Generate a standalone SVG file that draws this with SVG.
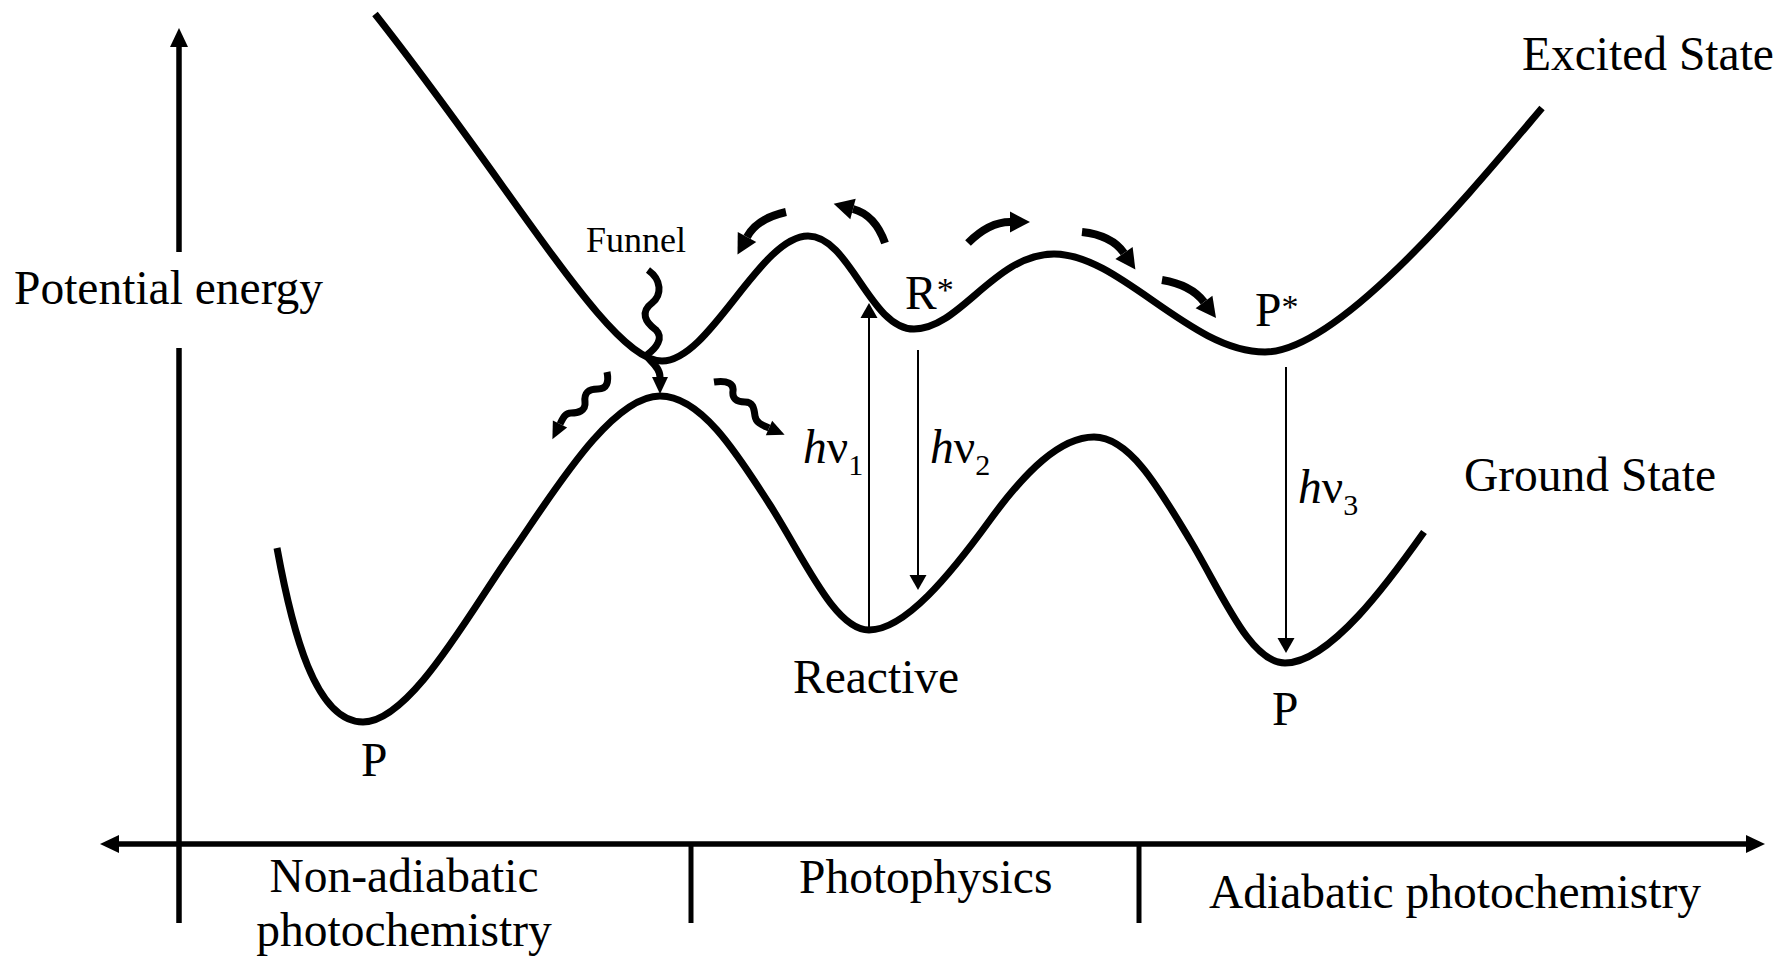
<svg xmlns="http://www.w3.org/2000/svg" width="1781" height="959" viewBox="0 0 1781 959">
<style>
.lbl{font-family:"Liberation Serif","Times New Roman",serif;font-size:47.5px;fill:#000}
.curve{fill:none;stroke:#000;stroke-width:7;stroke-linejoin:round}
.axis{fill:none;stroke:#000;stroke-width:5.5}
.tick{fill:none;stroke:#000;stroke-width:5}
.thin{fill:none;stroke:#000;stroke-width:2}
.curly{fill:none;stroke:#000;stroke-width:8}
.wavy{fill:none;stroke:#000;stroke-width:7}
</style>
<defs>
<marker id="mThin" markerUnits="userSpaceOnUse" viewBox="0 -9 16 18" markerWidth="16" markerHeight="18" refX="0" refY="0" orient="auto" overflow="visible"><path d="M0,-8.5 L15,0 L0,8.5 z" fill="#000"/></marker>
<marker id="mAxis" markerUnits="userSpaceOnUse" viewBox="0 -10 20 20" markerWidth="20" markerHeight="20" refX="0" refY="0" orient="auto-start-reverse" overflow="visible"><path d="M0,-9 L19,0 L0,9 z" fill="#000"/></marker>
<marker id="mCurly" markerUnits="userSpaceOnUse" viewBox="0 -11 21 22" markerWidth="21" markerHeight="22" refX="0" refY="0" orient="auto" overflow="visible"><path d="M0,-10.5 L20,0 L0,10.5 z" fill="#000"/></marker>
<marker id="mWavy" markerUnits="userSpaceOnUse" viewBox="0 -9 18 18" markerWidth="18" markerHeight="18" refX="0" refY="0" orient="auto" overflow="visible"><path d="M0,-8 L17,0 L0,8 z" fill="#000"/></marker>
</defs>

<g id="axes">
<line class="axis" x1="179" y1="252" x2="179" y2="47" marker-end="url(#mAxis)"/>
<line class="axis" x1="179" y1="348" x2="179" y2="923"/>
<line class="axis" x1="119" y1="844" x2="1746" y2="844" marker-start="url(#mAxis)" marker-end="url(#mAxis)"/>
<line class="tick" x1="691" y1="844" x2="691" y2="923"/>
<line class="tick" x1="1139" y1="844" x2="1139" y2="923"/>
</g>

<g id="excited-state-curve">
<path class="curve" d="M375,14 C520,198 610,361 662,361 C710,361 760,236 808,236 C850,236 870,329 914,329 C960,329 995,254 1054,254 C1120,254 1190,352 1265,352 C1340,352 1475,187 1542,108"/>
</g>

<g id="ground-state-curve">
<path class="curve" d="M277,548 C292,630 315,722 363,722 C410,722 470,612 510,555 C550,498 610,396 660,396 C700,396 735,450 770,505 C805,560 835,630 869,630 C905,630 950,575 990,520 C1025,472 1060,437 1094,437 C1130,437 1160,490 1190,540 C1222,593 1250,663 1285,663 C1330,663 1390,580 1424,532"/>
</g>

<g id="connectors">
<line class="thin" x1="869" y1="628" x2="869" y2="318" marker-end="url(#mThin)"/>
<line class="thin" x1="918" y1="350" x2="918" y2="575" marker-end="url(#mThin)"/>
<line class="thin" x1="1286" y1="367" x2="1286" y2="638" marker-end="url(#mThin)"/>
<path class="curly" d="M786,212 C768,216 754,224 747,237" marker-end="url(#mCurly)"/>
<path class="curly" d="M885,243 C879,226 868,213 853,209" marker-end="url(#mCurly)"/>
<path class="curly" d="M968,243 C980,231 993,222 1010,222" marker-end="url(#mCurly)"/>
<path class="curly" d="M1082,232 C1100,234 1115,240 1124,253" marker-end="url(#mCurly)"/>
<path class="curly" d="M1162,280 C1180,283 1195,290 1204,302" marker-end="url(#mCurly)"/>
<path class="wavy" d="M648,270 C662,280 662,295 652,303 C640,312 645,322 656,330 C664,338 656,348 648,354 C643,358 660,364 660,377" marker-end="url(#mWavy)"/>
<path class="wavy" d="M607,372 C609,382 607,389 598,389 C588,389 584,393 585,402 C586,411 578,413 571,413 C565,413 563,418 560,424" marker-end="url(#mWavy)"/>
<path class="wavy" d="M714,382 C728,380 734,384 733,391 C732,398 736,402 745,402 C753,402 754,408 755,416 C756,423 762,425 769,428" marker-end="url(#mWavy)"/>
</g>

<g id="label-potential-energy"><text class="lbl" x="14" y="304">Potential energy</text></g>
<g id="label-excited-state"><text class="lbl" x="1522" y="70">Excited State</text></g>
<g id="label-ground-state"><text class="lbl" x="1464" y="491">Ground State</text></g>
<g id="label-funnel"><text class="lbl" x="586" y="252" style="font-size:36px">Funnel</text></g>
<g id="label-rstar"><text class="lbl" x="905" y="309">R<tspan font-size="34" dy="-8">*</tspan></text></g>
<g id="label-pstar"><text class="lbl" x="1255" y="326">P<tspan font-size="34" dy="-8">*</tspan></text></g>
<g id="label-hv1"><text class="lbl" x="803" y="463"><tspan font-style="italic">h</tspan>ν<tspan font-size="30" dy="12">1</tspan></text></g>
<g id="label-hv2"><text class="lbl" x="930" y="463"><tspan font-style="italic">h</tspan>ν<tspan font-size="30" dy="12">2</tspan></text></g>
<g id="label-hv3"><text class="lbl" x="1298" y="503"><tspan font-style="italic">h</tspan>ν<tspan font-size="30" dy="12">3</tspan></text></g>
<g id="label-reactive"><text class="lbl" x="793" y="693">Reactive</text></g>
<g id="label-p-left"><text class="lbl" x="361" y="776">P</text></g>
<g id="label-p-right"><text class="lbl" x="1272" y="725">P</text></g>
<g id="label-non-adiabatic"><text class="lbl" x="404" y="892" text-anchor="middle">Non-adiabatic</text><text class="lbl" x="404" y="946" text-anchor="middle">photochemistry</text></g>
<g id="label-photophysics"><text class="lbl" x="799" y="893">Photophysics</text></g>
<g id="label-adiabatic"><text class="lbl" x="1455" y="908" text-anchor="middle">Adiabatic photochemistry</text></g>
</svg>
